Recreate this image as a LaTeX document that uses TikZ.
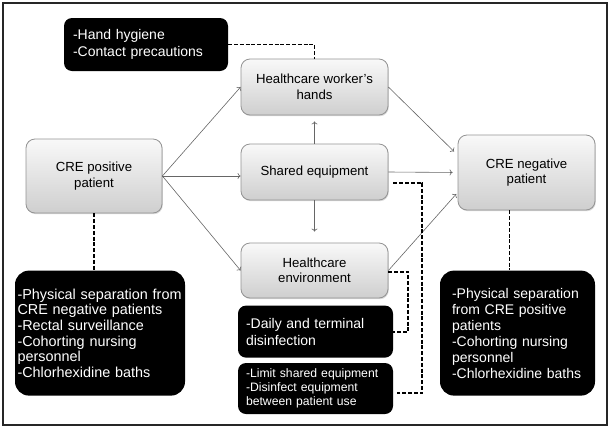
\documentclass[tikz,border=0pt]{standalone}
\usepackage{fontspec}
\setmainfont{Liberation Sans}
\usetikzlibrary{positioning,arrows.meta,shadows}
\tikzset{
	grbox/.style={draw=gray!85, line width=.8pt, rounded corners=9pt, top color=gray!5, bottom color=gray!38, drop shadow={shadow xshift=.8pt, shadow yshift=-1.2pt, opacity=.3}, align=center, inner sep=0pt, minimum width=147pt, font=\fontsize{13.2}{15.5}\selectfont},
	blkbox/.style={fill=black, text=white, align=left, inner ysep=0pt, rounded corners=8pt},
	flow/.style={-{To[length=3pt,width=6pt]}, gray!80!black, line width=.6pt},
	ctl/.style={line width=1.9pt, dash pattern=on 4pt off 1.8pt}
}

\begin{document}
\begin{tikzpicture}[x=1pt,y=-1pt]
				\useasboundingbox (0,0) rectangle (611,429);
				\draw [gray!30!black, line width=1.2pt] (3,3) rectangle (607,425);
				\node [grbox, minimum width=136pt, minimum height=74pt] (pos) at (94,176) {CRE positive\\patient};
				\node [grbox, minimum width=137pt, minimum height=75pt] (neg) at (526.5,172.5) {CRE negative\\patient};
				\node [grbox, minimum height=56pt] (hands) at (314.5,87) {Healthcare worker's\\hands};
				\node [grbox, minimum height=56pt] (shared) at (314.5,172) {Shared equipment};
				\node [grbox, minimum height=55pt] (env) at (314.5,270.5) {Healthcare\\environment};
				\node [blkbox, text width=146pt, inner xsep=9pt, minimum height=53pt, font=\fontsize{14}{16.5}\selectfont] (hyg) at (146,44.5) {-Hand hygiene\\-Contact precautions};
				\node [blkbox, below=57pt of pos, xshift=6pt, text width=165pt, inner xsep=2.5pt, minimum height=125pt, rounded corners=14pt, font=\fontsize{14.4}{15.6}\selectfont] (posctl) {-Physical separation from\\CRE negative patients\\-Rectal surveillance\\-Cohorting nursing\\personnel\\-Chlorhexidine baths};
				\node [blkbox, below=60pt of neg, xshift=-9pt, text width=131pt, inner xsep=12pt, minimum height=125pt, rounded corners=14pt, font=\fontsize{14}{16}\selectfont] (negctl) {-Physical separation\\from CRE positive\\patients\\-Cohorting nursing\\personnel\\-Chlorhexidine baths};
				\node [blkbox, below=7pt of env, xshift=1pt, text width=139pt, inner xsep=8pt, minimum height=52pt, font=\fontsize{14}{17}\selectfont] (daily) {-Daily and terminal\\disinfection};
				\node [blkbox, below=5pt of daily, text width=139pt, inner xsep=8pt, minimum height=51pt, font=\fontsize{12.2}{14}\selectfont] (limit) {-Limit shared equipment\\-Disinfect equipment\\between patient use};
				\draw [flow] (pos.east) -- (hands.west);
				\draw [flow] (pos.east) -- (pos.east -| shared.west);
				\draw [flow] (pos.east) -- (env.west);
				\draw [flow, shorten >=6pt] (shared.north) -- (hands.south);
				\draw [flow, shorten >=11pt] (shared.south) -- (env.north);
				\draw [flow, shorten >=5pt] (hands.east) -- ([yshift=17.5pt]neg.west);
				\draw [flow, shorten >=5pt] (shared.east) -- (neg.west);
				\draw [flow, shorten >=2pt] (env.east) -- ([yshift=-20pt]neg.west);
				\draw [ctl] (hyg.east) -| (hands.north);
				\draw [ctl] (pos.south) -- (pos.south |- posctl.north);
				\draw [ctl] ([xshift=-17pt]neg.south) -- ([xshift=-17pt]neg.south |- negctl.north);
				\draw [ctl] ([yshift=-1.5pt]env.east) -- ++(20,0) |- (daily.east);
				\draw [ctl] ([shift={(5,11)}]shared.east) -- ++(29,0) |- ([shift={(4,4.5)}]limit.east);
\end{tikzpicture}
\end{document}
